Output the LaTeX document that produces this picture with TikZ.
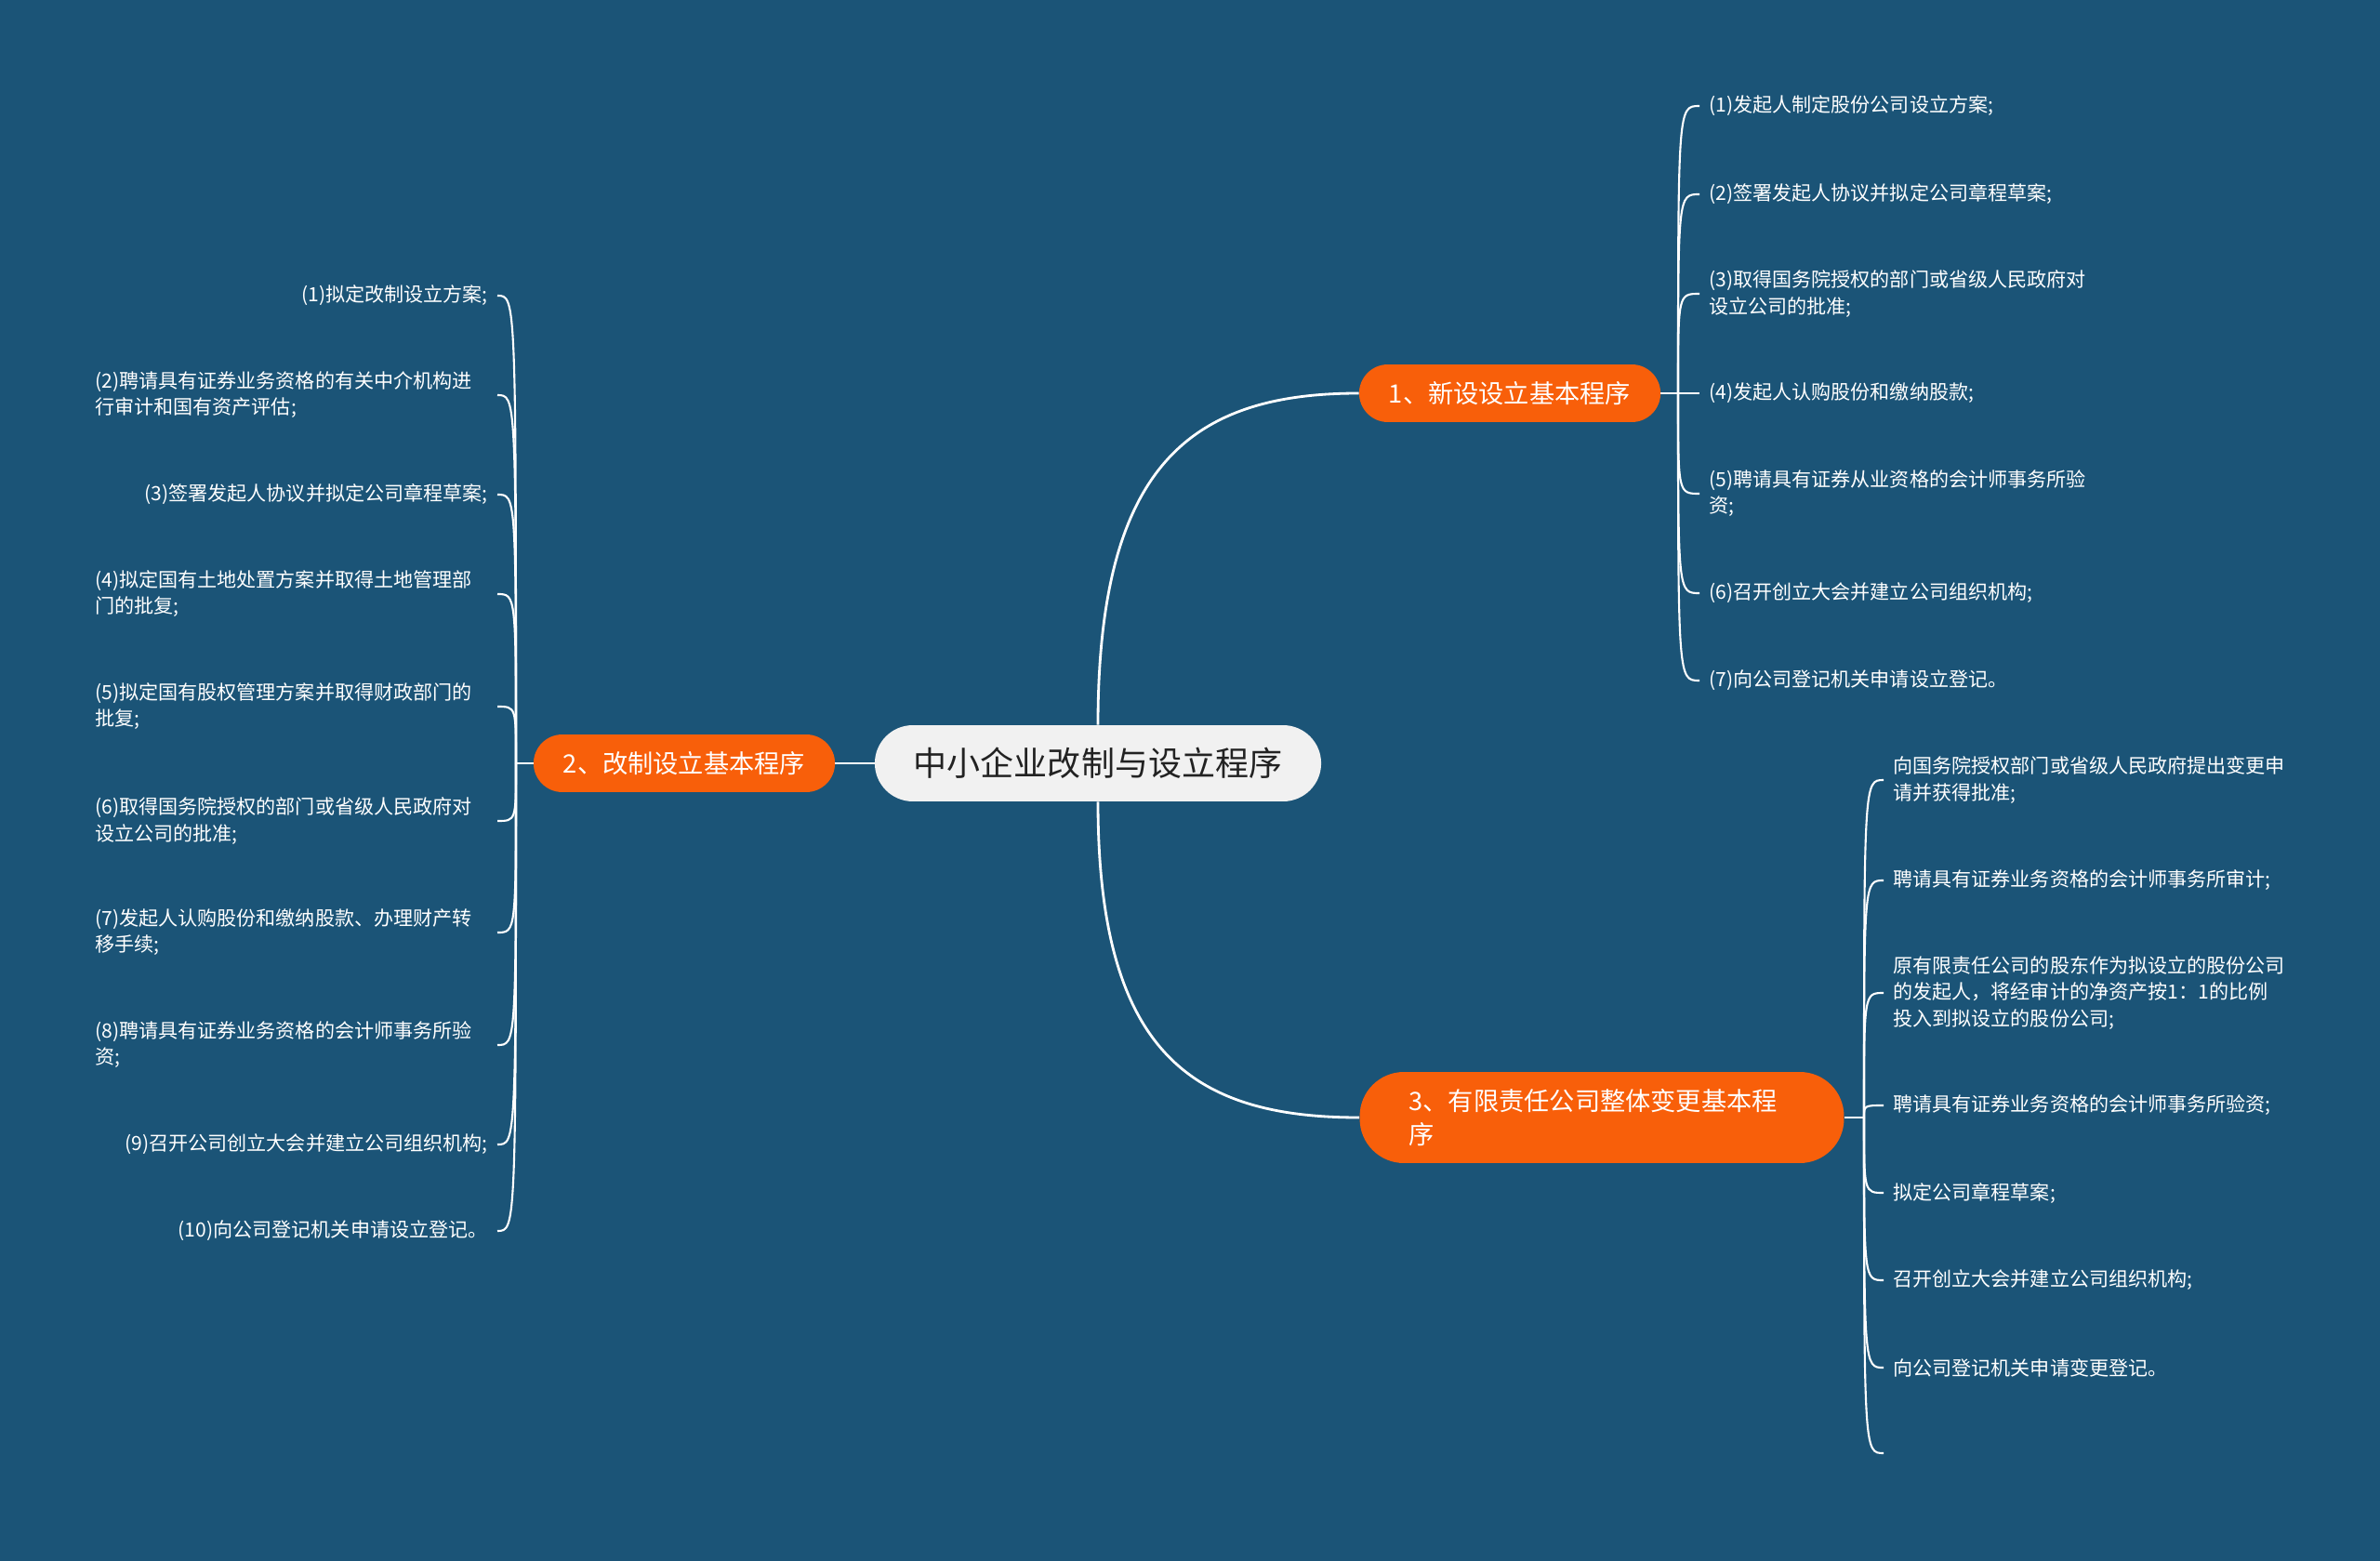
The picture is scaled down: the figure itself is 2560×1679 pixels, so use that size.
\documentclass[tikz,border=0pt]{standalone}
\usepackage{fontspec}
\setmainfont{Noto Sans CJK SC}
\definecolor{bgblue}{RGB}{27,84,119}
\definecolor{topicorange}{RGB}{248,95,10}
\definecolor{rootgray}{RGB}{241,241,241}
\definecolor{roottext}{RGB}{34,34,34}
\tikzset{root/.style = {fill=rootgray, text=roottext, rounded corners=0.82cm, minimum height=1.64cm, inner xsep=0.84cm, font=\fontsize{20.5}{24}\selectfont},
         topic/.style = {fill=topicorange, text=white, rounded corners=0.62cm, minimum height=1.24cm, inner xsep=0.64cm, font=\fontsize{15.5}{20.5}\selectfont},
         leaf/.style = {text=white, inner xsep=0.2cm, align=left, font=\fontsize{12}{16}\selectfont},
         link/.style = {draw=white, line width=1.6pt},
         twig/.style = {draw=white, line width=1.2pt}}

\begin{document}
\begin{tikzpicture}[x=0.02cm, y=-0.02cm]
        \fill[bgblue](0,0)rectangle(2560,1679);
        \useasboundingbox(0,0)rectangle(2560,1679);

        \node[root](main)at(1181,821){中小企业改制与设立程序};
        \node[topic](b1)at(1624,423){1、新设设立基本程序};
        \node[topic](b2)at(736,821){2、改制设立基本程序};
        \node[topic, text width=8.3cm, inner xsep=1.06cm, rounded corners=0.95cm, minimum height=1.96cm, align=left](b3)at(1723,1202){3、有限责任公司整体变更基本程\\序};

        \draw[link](main.west)--(b2.east);
        \draw[link](main.north)..controls +(0,-280) and +(-180,0)..(b1.west);
        \draw[link](main.south)..controls +(0,270) and +(-180,0)..(b3.west);

        \node[leaf, anchor=west](a1)at(1828,114){(1)发起人制定股份公司设立方案;};
        \node[leaf, anchor=west](a2)at(1828,209){(2)签署发起人协议并拟定公司章程草案;};
        \node[leaf, anchor=west](a3)at(1828,316){(3)取得国务院授权的部门或省级人民政府对\\设立公司的批准;};
        \node[leaf, anchor=west](a4)at(1828,423){(4)发起人认购股份和缴纳股款;};
        \node[leaf, anchor=west](a5)at(1828,531){(5)聘请具有证券从业资格的会计师事务所验\\资;};
        \node[leaf, anchor=west](a6)at(1828,638){(6)召开创立大会并建立公司组织机构;};
        \node[leaf, anchor=west](a7)at(1828,732){(7)向公司登记机关申请设立登记。};
        \coordinate(j1)at(1805,423);
        \draw[twig](b1.east)--(j1);
        \foreach \i in {1,...,7}
            \draw[twig](j1)..controls(j1 |- a\i.west)..(a\i.west);

        \node[leaf, anchor=east](c1)at(535,318){(1)拟定改制设立方案;};
        \node[leaf, anchor=east, text width=8.45cm](c2)at(535,425){(2)聘请具有证券业务资格的有关中介机构进\\行审计和国有资产评估;};
        \node[leaf, anchor=east](c3)at(535,532){(3)签署发起人协议并拟定公司章程草案;};
        \node[leaf, anchor=east, text width=8.45cm](c4)at(535,639){(4)拟定国有土地处置方案并取得土地管理部\\门的批复;};
        \node[leaf, anchor=east, text width=8.45cm](c5)at(535,760){(5)拟定国有股权管理方案并取得财政部门的\\批复;};
        \node[leaf, anchor=east, text width=8.45cm](c6)at(535,883){(6)取得国务院授权的部门或省级人民政府对\\设立公司的批准;};
        \node[leaf, anchor=east, text width=8.45cm](c7)at(535,1003){(7)发起人认购股份和缴纳股款、办理财产转\\移手续;};
        \node[leaf, anchor=east, text width=8.45cm](c8)at(535,1124){(8)聘请具有证券业务资格的会计师事务所验\\资;};
        \node[leaf, anchor=east](c9)at(535,1231){(9)召开公司创立大会并建立公司组织机构;};
        \node[leaf, anchor=east](c10)at(535,1324){(10)向公司登记机关申请设立登记。};
        \coordinate(j2)at(555,821);
        \draw[twig](b2.west)--(j2);
        \foreach \i in {1,...,10}
            \draw[twig](j2)..controls(j2 |- c\i.east)..(c\i.east);

        \node[leaf, anchor=west](d1)at(2026,839){向国务院授权部门或省级人民政府提出变更申\\请并获得批准;};
        \node[leaf, anchor=west](d2)at(2026,947){聘请具有证券业务资格的会计师事务所审计;};
        \node[leaf, anchor=west](d3)at(2026,1068){原有限责任公司的股东作为拟设立的股份公司\\的发起人，将经审计的净资产按1：1的比例\\投入到拟设立的股份公司;};
        \node[leaf, anchor=west](d4)at(2026,1189){聘请具有证券业务资格的会计师事务所验资;};
        \node[leaf, anchor=west](d5)at(2026,1283){拟定公司章程草案;};
        \node[leaf, anchor=west](d6)at(2026,1377){召开创立大会并建立公司组织机构;};
        \node[leaf, anchor=west](d7)at(2026,1471){向公司登记机关申请变更登记。};
        \coordinate(d8)at(2026,1563);
        \coordinate(j3)at(2005,1202);
        \draw[twig](b3.east)--(j3);
        \foreach \i in {1,...,7}
            \draw[twig](j3)..controls(j3 |- d\i.west)..(d\i.west);
        \draw[twig](j3)..controls(j3 |- d8)..(d8);
    \end{tikzpicture}
\end{document}
